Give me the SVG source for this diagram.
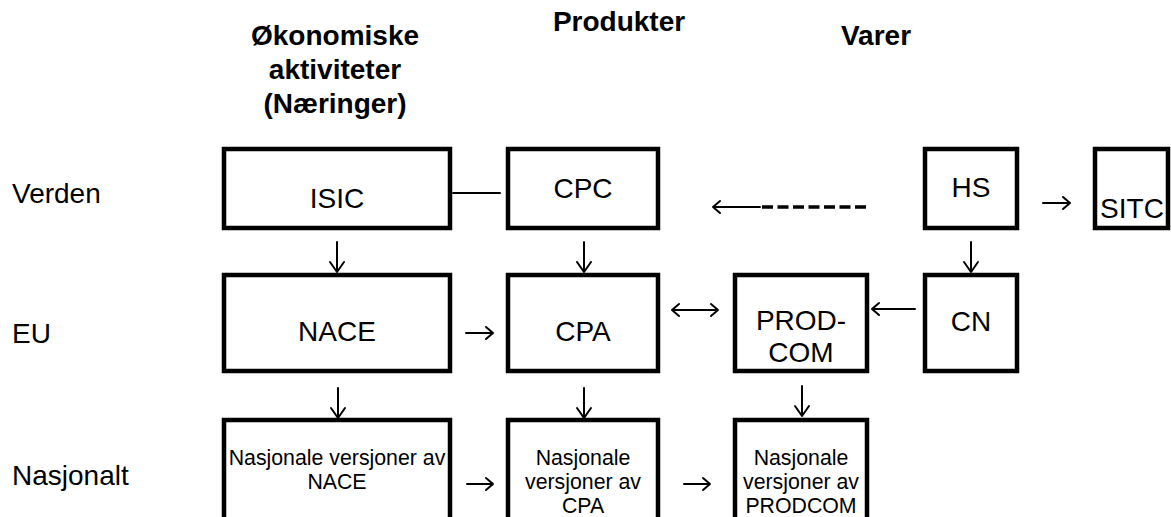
<svg xmlns="http://www.w3.org/2000/svg" width="1171" height="517" viewBox="0 0 1171 517">
<style>
.box{fill:#fff;stroke:#000;stroke-width:4.5}
.t{font-family:"Liberation Sans",Arial,sans-serif;font-size:28px;fill:#000}
.c{text-anchor:middle}
.b{font-weight:bold}
.s{font-family:"Liberation Sans",Arial,sans-serif;font-size:21.3px;fill:#000;text-anchor:middle}
.ln{fill:none;stroke:#000;stroke-width:2;stroke-linecap:round;stroke-linejoin:round}
.dash{fill:none;stroke:#000;stroke-width:3.5;stroke-dasharray:11 4.5}
</style>
<rect width="1171" height="517" fill="#fff"/>
<g id="headers">
<text class="t b c" x="335" y="45">Økonomiske</text>
<text class="t b c" x="335" y="79">aktiviteter</text>
<text class="t b c" x="335" y="113">(Næringer)</text>
<text class="t b c" x="619" y="31">Produkter</text>
<text class="t b c" x="876" y="45">Varer</text>
</g>
<g id="rowlabels">
<text class="t" x="12" y="203">Verden</text>
<text class="t" x="12" y="343">EU</text>
<text class="t" x="12" y="485">Nasjonalt</text>
</g>
<g id="isic"><rect class="box" x="224" y="149" width="226" height="79"/><text class="t c" x="337" y="208">ISIC</text></g>
<g id="cpc"><rect class="box" x="508" y="149" width="150" height="79"/><text class="t c" x="583" y="198">CPC</text></g>
<g id="hs"><rect class="box" x="925" y="149" width="92" height="79"/><text class="t c" x="971" y="197">HS</text></g>
<g id="sitc"><rect class="box" x="1095" y="149" width="73" height="79"/><text class="t c" x="1132" y="218">SITC</text></g>
<g id="nace"><rect class="box" x="224" y="275" width="226" height="96"/><text class="t c" x="337" y="341">NACE</text></g>
<g id="cpa"><rect class="box" x="508" y="275" width="150" height="96"/><text class="t c" x="583" y="341">CPA</text></g>
<g id="prodcom"><rect class="box" x="735" y="275" width="132" height="96"/><text class="t c" x="801" y="330">PROD-</text><text class="t c" x="801" y="362">COM</text></g>
<g id="cn"><rect class="box" x="925" y="275" width="92" height="96"/><text class="t c" x="971" y="331">CN</text></g>
<g id="nace-nat"><rect class="box" x="224" y="420" width="226" height="130"/><text class="s" x="337" y="465">Nasjonale versjoner av</text><text class="s" x="337" y="489">NACE</text></g>
<g id="cpa-nat"><rect class="box" x="508" y="420" width="150" height="130"/><text class="s" x="583" y="465">Nasjonale</text><text class="s" x="583" y="489">versjoner av</text><text class="s" x="583" y="513">CPA</text></g>
<g id="prodcom-nat"><rect class="box" x="735" y="420" width="132" height="130"/><text class="s" x="801" y="465">Nasjonale</text><text class="s" x="801" y="489">versjoner av</text><text class="s" x="801" y="513">PRODCOM</text></g>
<g id="connectors">
<path class="ln" d="M453 193 H500"/>
<path class="ln" d="M337 242 V272 M330 262 L337 272 L344 262"/>
<path class="ln" d="M584 242 V272 M577 262 L584 272 L591 262"/>
<path class="ln" d="M971 242 V272 M964 262 L971 272 L978 262"/>
<path class="ln" d="M338 388 V418 M331 408 L338 418 L345 408"/>
<path class="ln" d="M584 388 V418 M577 408 L584 418 L591 408"/>
<path class="ln" d="M802 386 V416 M795 406 L802 416 L809 406"/>
<path class="ln" d="M466 333 H493 M486 327 L493 333 L486 339"/>
<path class="ln" d="M467 484 H493 M486 478 L493 484 L486 490"/>
<path class="ln" d="M684 484 H710 M703 478 L710 484 L703 490"/>
<path class="ln" d="M1043 203 H1070 M1063 197 L1070 203 L1063 209"/>
<path class="ln" d="M672 310 H718 M679 304 L672 310 L679 316 M711 304 L718 310 L711 316"/>
<path class="ln" d="M915 309 H872 M879 303 L872 309 L879 315"/>
<path class="ln" d="M760 207 H713 M720 201 L713 207 L720 213"/>
<path class="dash" d="M762 207 H868"/>
</g>
</svg>
